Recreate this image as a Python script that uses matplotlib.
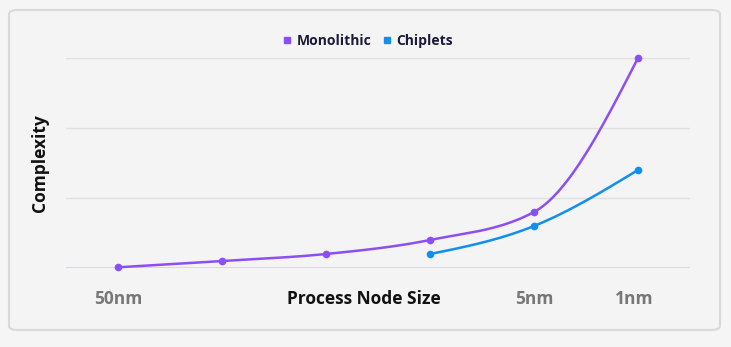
import numpy as np
import matplotlib.pyplot as plt
import matplotlib.transforms as mtransforms
from matplotlib.patches import FancyBboxPatch
from matplotlib.lines import Line2D

# data
nodes = ["50nm", "", "", "", "5nm", "1nm"]
mono_x = [0, 1, 2, 3, 4, 5]
mono_y = [0.01, 0.1, 0.2, 0.4, 0.8, 3.0]
chip_x = [3, 4, 5]
chip_y = [0.2, 0.6, 1.4]

purple = "#8c4ff5"
blue = "#0f8ff0"


def monotone(x, y, n=40):
    # monotone cubic curve (like d3 curveMonotoneX)
    x = np.asarray(x, float)
    y = np.asarray(y, float)
    h = np.diff(x)
    s = np.diff(y) / h
    t = np.zeros_like(y)
    for i in range(1, len(x) - 1):
        p = (s[i - 1] * h[i] + s[i] * h[i - 1]) / (h[i - 1] + h[i])
        t[i] = (np.sign(s[i - 1]) + np.sign(s[i])) * min(abs(s[i - 1]), abs(s[i]), 0.5 * abs(p))
    t[0] = (3 * s[0] - t[1]) / 2
    t[-1] = (3 * s[-1] - t[-2]) / 2
    xs, ys = [], []
    for i in range(len(x) - 1):
        u = np.linspace(0, 1, n)
        h00 = 2 * u**3 - 3 * u**2 + 1
        h10 = u**3 - 2 * u**2 + u
        h01 = -2 * u**3 + 3 * u**2
        h11 = u**3 - u**2
        xs.append(x[i] + u * h[i])
        ys.append(h00 * y[i] + h10 * h[i] * t[i] + h01 * y[i + 1] + h11 * h[i] * t[i + 1])
    return np.concatenate(xs), np.concatenate(ys)


plt.rcParams['font.family'] = ['Open Sans', 'DejaVu Sans']

fig = plt.figure(figsize=(7.31, 3.47), dpi=100, facecolor="#f5f5f5")
W, H = 731, 347
box = FancyBboxPatch((9 / W, 1 - 330 / H), 711 / W, 320 / H,
                     boxstyle="round,pad=0,rounding_size=0.012",
                     transform=fig.transFigure, facecolor="#f4f4f4",
                     edgecolor="#d9d9d9", linewidth=1.5, zorder=-5)
fig.patches.append(box)

ax = fig.add_axes([66 / W, 1 - 268 / H, 624 / W, 210 / H])
ax.set_facecolor("none")
ax.set_zorder(2)

mx, my = monotone(mono_x, mono_y)
cx, cy = monotone(chip_x, chip_y)
ax.plot(mx, my, color=purple, lw=1.8, zorder=3, clip_on=False)
ax.plot(mono_x, mono_y, "o", color=purple, ms=4.5, zorder=4, clip_on=False)
ax.plot(cx, cy, color=blue, lw=1.8, zorder=3, clip_on=False)
ax.plot(chip_x, chip_y, "o", color=blue, ms=4.5, zorder=4, clip_on=False)

ax.set_xlim(-0.5, 5.5)
ax.set_ylim(0, 3)
ax.set_yticks([0, 1, 2, 3])
ax.set_yticklabels([])
ax.grid(axis="y", color="#e0e0e0", lw=1)
ax.axhline(0, color="#d6d2dc", lw=1.2, zorder=2)
ax.tick_params(length=0)
for sp in ax.spines.values():
    sp.set_visible(False)

ax.set_xticks(mono_x)
ax.set_xticklabels(nodes, fontsize=12.5, fontweight="bold", color="#777777")
ax.tick_params(axis="x", pad=16)
# last label sits a little left of its point
lab = ax.get_xticklabels()[-1]
lab.set_transform(lab.get_transform() + mtransforms.ScaledTranslation(-4 / 100, 0, fig.dpi_scale_trans))

fig.text(364 / W, 1 - 299 / H, "Process Node Size",
         ha="center", va="center", fontsize=12.5, fontweight="bold", color="#111111")
fig.text(40 / W, 1 - 163 / H, "Complexity", rotation=90, ha="center", va="center",
         fontsize=12.5, fontweight="bold", color="#111111")

handles = [Line2D([], [], marker="s", ls="", color=purple, ms=4),
           Line2D([], [], marker="s", ls="", color=blue, ms=4)]
fig.legend(handles, ["Monolithic", "Chiplets"], loc="center",
           bbox_to_anchor=(368 / W, 1 - 41 / H), ncol=2, frameon=False,
           handlelength=0.6, handletextpad=0.4, columnspacing=0.8,
           prop={"size": 10, "weight": "bold"}, labelcolor="#1c1a3a")

fig.savefig("out.png", dpi=100, facecolor=fig.get_facecolor())
